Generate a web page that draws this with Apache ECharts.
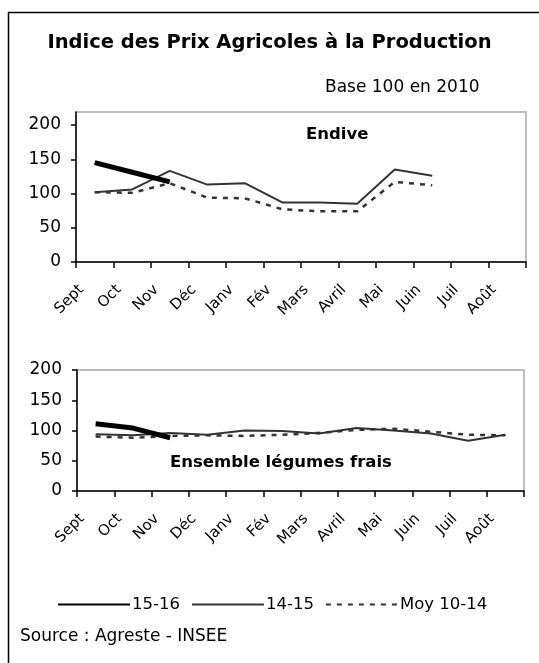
<!DOCTYPE html>
<html>
<head>
<meta charset="utf-8">
<script src="https://cdn.jsdelivr.net/npm/echarts@6/dist/echarts.min.js"></script>
<style>
html,body{margin:0;padding:0;background:#fff;}
#chart{width:539px;height:663px;}
</style>
</head>
<body>
<div id="chart"></div>
<script>
var months = ['Sept','Oct','Nov','Déc','Janv','Fév','Mars','Avril','Mai','Juin','Juil','Août'];
var yTicks = [0, 50, 100, 150, 200];
var seriesNames = ['15-16', '14-15', 'Moy 10-14'];

var endive1516 = [145, 131, 117, null, null, null, null, null, null, null, null, null];
var endive1415 = [102, 106, 133, 113, 115, 87, 87, 85, 135, 126, null, null];
var endiveMoy  = [102, 101, 115, 94, 93, 77, 74, 74, 117, 112, null, null];

var leg1516 = [111, 104, 88, null, null, null, null, null, null, null, null, null];
var leg1415 = [94, 92, 96, 93, 100, 99, 95, 104, 100, 95, 83, 93];
var legMoy  = [90, 88, 91, 92, 91, 93, 96, 101, 103, 98, 93, 92];

var FONT = 'DejaVu Sans';

function xAxis(gi) {
  return {
    type: 'category', gridIndex: gi, data: months, boundaryGap: true,
    axisLine: {show: true, lineStyle: {color: '#000', width: 1.5}},
    axisTick: {show: true, length: 6, lineStyle: {color: '#000', width: 1.5}},
    axisLabel: {rotate: 45, interval: 0, margin: 12, padding: [0, 19, 0, 0],
      color: '#000', fontFamily: FONT, fontSize: 15},
    splitLine: {show: false}
  };
}
function yAxis(gi, max) {
  return {
    type: 'value', gridIndex: gi, min: 0, max: max, interval: 50,
    axisLine: {show: true, lineStyle: {color: '#000', width: 1.5}},
    axisTick: {show: true, length: 5, customValues: yTicks, lineStyle: {color: '#000', width: 1.5}},
    axisLabel: {margin: 15, customValues: yTicks, color: '#000', fontFamily: FONT, fontSize: 17,
      formatter: function (v) { return (v % 50 === 0) ? String(v) : ''; }},
    splitLine: {show: false}
  };
}
var styles = [
  {color: '#000', width: 5, type: 'solid'},
  {color: '#333', width: 2, type: 'solid'},
  {color: '#333', width: 2.5, type: [5, 6]}
];
function lines(xi, d1, d2, d3) {
  return [d1, d2, d3].map(function (d, i) {
    return {name: seriesNames[i], type: 'line', xAxisIndex: xi, yAxisIndex: xi, data: d,
      symbol: 'none', showSymbol: false, color: styles[i].color,
      itemStyle: {color: styles[i].color},
      lineStyle: styles[i], z: 5 - i};
  });
}

var chart = echarts.init(document.getElementById('chart'), null, {renderer: 'canvas'});
chart.setOption({
  animation: false,
  backgroundColor: '#fff',
  textStyle: {fontFamily: FONT},
  title: [
    {text: 'Indice des Prix Agricoles à la Production', left: 'center', top: 28,
      textStyle: {fontFamily: FONT, fontWeight: 'bold', fontSize: 19.5, color: '#000'}},
    {text: 'Base 100 en 2010', left: 320, top: 74,
      textStyle: {fontFamily: FONT, fontWeight: 'normal', fontSize: 17, color: '#000'}},
    {text: 'Endive', left: 301, top: 121,
      textStyle: {fontFamily: FONT, fontWeight: 'bold', fontSize: 16.5, color: '#000'}},
    {text: 'Ensemble légumes frais', left: 165, top: 449,
      textStyle: {fontFamily: FONT, fontWeight: 'bold', fontSize: 16.5, color: '#000'}},
    {text: 'Source : Agreste - INSEE', left: 15, top: 623,
      textStyle: {fontFamily: FONT, fontWeight: 'normal', fontSize: 17, color: '#000'}}
  ],
  graphic: [
    {type: 'polyline', shape: {points: [[8.5, 680], [8.5, 12.5], [560, 12.5]]},
      style: {stroke: '#000', lineWidth: 1.5, fill: null}, silent: true}
  ],
  legend: {
    left: 52, top: 591, itemWidth: 72, itemHeight: 14, itemGap: 11,
    itemStyle: {opacity: 0},
    textStyle: {fontFamily: FONT, fontSize: 16.5, color: '#000', padding: [0, 0, 0, -3]},
    data: seriesNames
  },
  grid: [
    {left: 76, right: 13, top: 112, bottom: 401, show: true, borderColor: '#bdbdbd', borderWidth: 2, containLabel: false},
    {left: 77, right: 15, top: 370, bottom: 172, show: true, borderColor: '#bdbdbd', borderWidth: 2, containLabel: false}
  ],
  xAxis: [xAxis(0), xAxis(1)],
  yAxis: [yAxis(0, 219), yAxis(1, 200)],
  series: lines(0, endive1516, endive1415, endiveMoy).concat(lines(1, leg1516, leg1415, legMoy))
});
</script>
</body>
</html>
